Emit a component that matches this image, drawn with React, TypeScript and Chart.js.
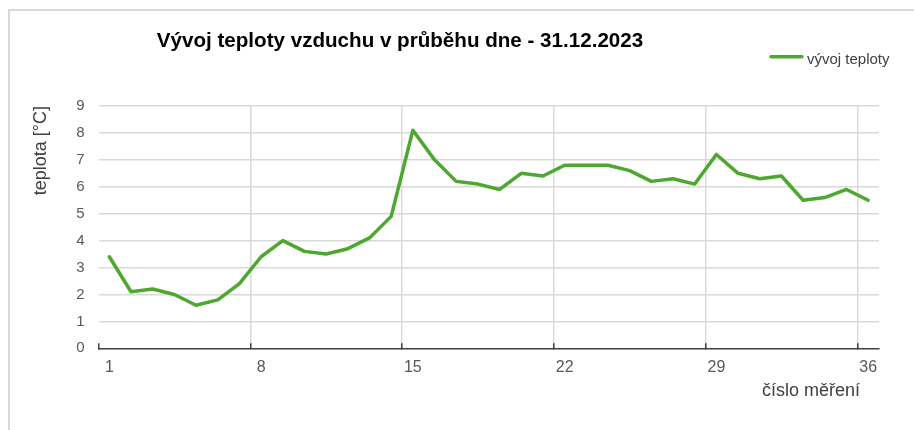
import { useEffect, useRef } from 'react';
import { Chart, registerables } from 'chart.js';

Chart.register(...registerables);

// ---- data ----
const categories = [
  '1', '2', '3', '4', '5', '6', '7', '8', '9', '10', '11', '12',
  '13', '14', '15', '16', '17', '18', '19', '20', '21', '22', '23', '24',
  '25', '26', '27', '28', '29', '30', '31', '32', '33', '34', '35', '36',
];
const temperatures = [
  3.4, 2.1, 2.2, 2.0, 1.6, 1.8, 2.4, 3.4, 4.0, 3.6, 3.5, 3.7,
  4.1, 4.9, 8.1, 7.0, 6.2, 6.1, 5.9, 6.5, 6.4, 6.8, 6.8, 6.8,
  6.6, 6.2, 6.3, 6.1, 7.2, 6.5, 6.3, 6.4, 5.5, 5.6, 5.9, 5.5,
];
const labelStep = 7; // x tick labels: 1, 8, 15, 22, 29, 36
const yMin = 0;
const yMax = 9;
const yStep = 1;

const chartTitle = 'Vývoj teploty vzduchu v průběhu dne - 31.12.2023';
const seriesName = 'vývoj teploty';
const yAxisTitle = 'teplota [°C]';
const xAxisTitle = 'číslo měření';

const FONT = '"Liberation Sans", Arial, sans-serif';
const GREEN = '#4ea72e';
const GRID = '#d9d9d9';
const AXIS = '#404040';

const headerPlugin = {
  id: 'excelHeader',
  afterDraw(chart: any, _args: any, opts: any) {
    const { ctx } = chart;
    ctx.save();
    // chart title
    ctx.font = `bold ${opts.titleSize}px ${FONT}`;
    ctx.fillStyle = '#000000';
    ctx.textAlign = 'center';
    ctx.textBaseline = 'alphabetic';
    ctx.fillText(opts.title, opts.titleX, opts.titleY);

    // legend (line sample + text), taken from the dataset
    const ds = chart.data.datasets[0];
    ctx.strokeStyle = ds.borderColor;
    ctx.lineWidth = ds.borderWidth;
    ctx.lineCap = 'round';
    ctx.beginPath();
    ctx.moveTo(opts.legendX1, opts.legendLineY);
    ctx.lineTo(opts.legendX2, opts.legendLineY);
    ctx.stroke();
    ctx.font = `${opts.legendSize}px ${FONT}`;
    ctx.fillStyle = AXIS;
    ctx.textAlign = 'left';
    ctx.fillText(ds.label, opts.legendTextX, opts.legendTextY);

    // x axis title
    ctx.font = `${opts.xTitleSize}px ${FONT}`;
    ctx.fillStyle = AXIS;
    ctx.textAlign = 'right';
    ctx.fillText(opts.xTitle, opts.xTitleX, opts.xTitleY);
    ctx.restore();
  },
};

export default function App() {
  const canvasRef = useRef<HTMLCanvasElement | null>(null);

  useEffect(() => {
    if (!canvasRef.current) return;
    Chart.defaults.font.family = FONT;
    const chart = new Chart(canvasRef.current, {
      type: 'line',
      data: {
        labels: categories,
        datasets: [
          {
            label: seriesName,
            data: temperatures,
            borderColor: GREEN,
            backgroundColor: GREEN,
            borderWidth: 3.5,
            pointRadius: 0,
            pointHoverRadius: 0,
            tension: 0,
            fill: false,
            borderJoinStyle: 'round',
            borderCapStyle: 'round',
          },
        ],
      },
      plugins: [headerPlugin],
      options: {
        animation: false,
        responsive: false,
        maintainAspectRatio: false,
        layout: { padding: { top: 95, right: 35, bottom: 0, left: 0 } },
        plugins: {
          legend: { display: false },
          title: { display: false },
          tooltip: { enabled: false },
          excelHeader: {
            title: chartTitle,
            titleSize: 20.6,
            titleX: 390,
            titleY: 35.7,
            legendX1: 761,
            legendX2: 792,
            legendLineY: 45.7,
            legendTextX: 797,
            legendTextY: 53,
            legendSize: 15,
            xTitle: xAxisTitle,
            xTitleSize: 18,
            xTitleX: 850,
            xTitleY: 384.7,
          },
        } as any,
        scales: {
          x: {
            type: 'category',
            offset: true,
            afterFit: (s: any) => {
              s.height = 81.7;
            },
            border: { display: true, color: AXIS, width: 1.5 },
            grid: {
              offset: true,
              drawTicks: true,
              tickLength: -5,
              lineWidth: 1.5,
              tickWidth: 1.5,
              color: (c: any) =>
                typeof c.index === 'number' && c.index > 0 && c.index % labelStep === 0
                  ? GRID
                  : 'rgba(0,0,0,0)',
              tickColor: (c: any) =>
                typeof c.index === 'number' && c.index % labelStep === 0 ? AXIS : 'rgba(0,0,0,0)',
            },
            ticks: {
              autoSkip: false,
              maxRotation: 0,
              minRotation: 0,
              padding: 15,
              color: '#595959',
              font: { size: 16 },
              callback: (_v: any, i: number) => (i % labelStep === 0 ? categories[i] : ''),
            },
          },
          y: {
            min: yMin,
            max: yMax,
            afterFit: (s: any) => {
              s.width = 88.5;
            },
            border: { display: false },
            grid: {
              drawTicks: false,
              lineWidth: 1.5,
              color: (c: any) => (c.tick && c.tick.value === yMin ? 'rgba(0,0,0,0)' : GRID),
            },
            ticks: {
              stepSize: yStep,
              padding: 14,
              color: '#595959',
              font: { size: 15 },
            },
            title: {
              display: true,
              text: yAxisTitle,
              align: 'end',
              color: AXIS,
              font: { size: 18 },
              padding: { top: 20.7, bottom: 0 },
            },
          },
        },
      },
    });
    return () => chart.destroy();
  }, []);

  return (
    <div
      style={{
        position: 'fixed',
        left: 8,
        top: 9,
        right: 0,
        bottom: 0,
        borderTop: '2px solid #d9d9d9',
        borderLeft: '2px solid #d9d9d9',
        background: '#ffffff',
      }}
    >
      <canvas ref={canvasRef} width={904} height={419} style={{ display: 'block' }} />
    </div>
  );
}
